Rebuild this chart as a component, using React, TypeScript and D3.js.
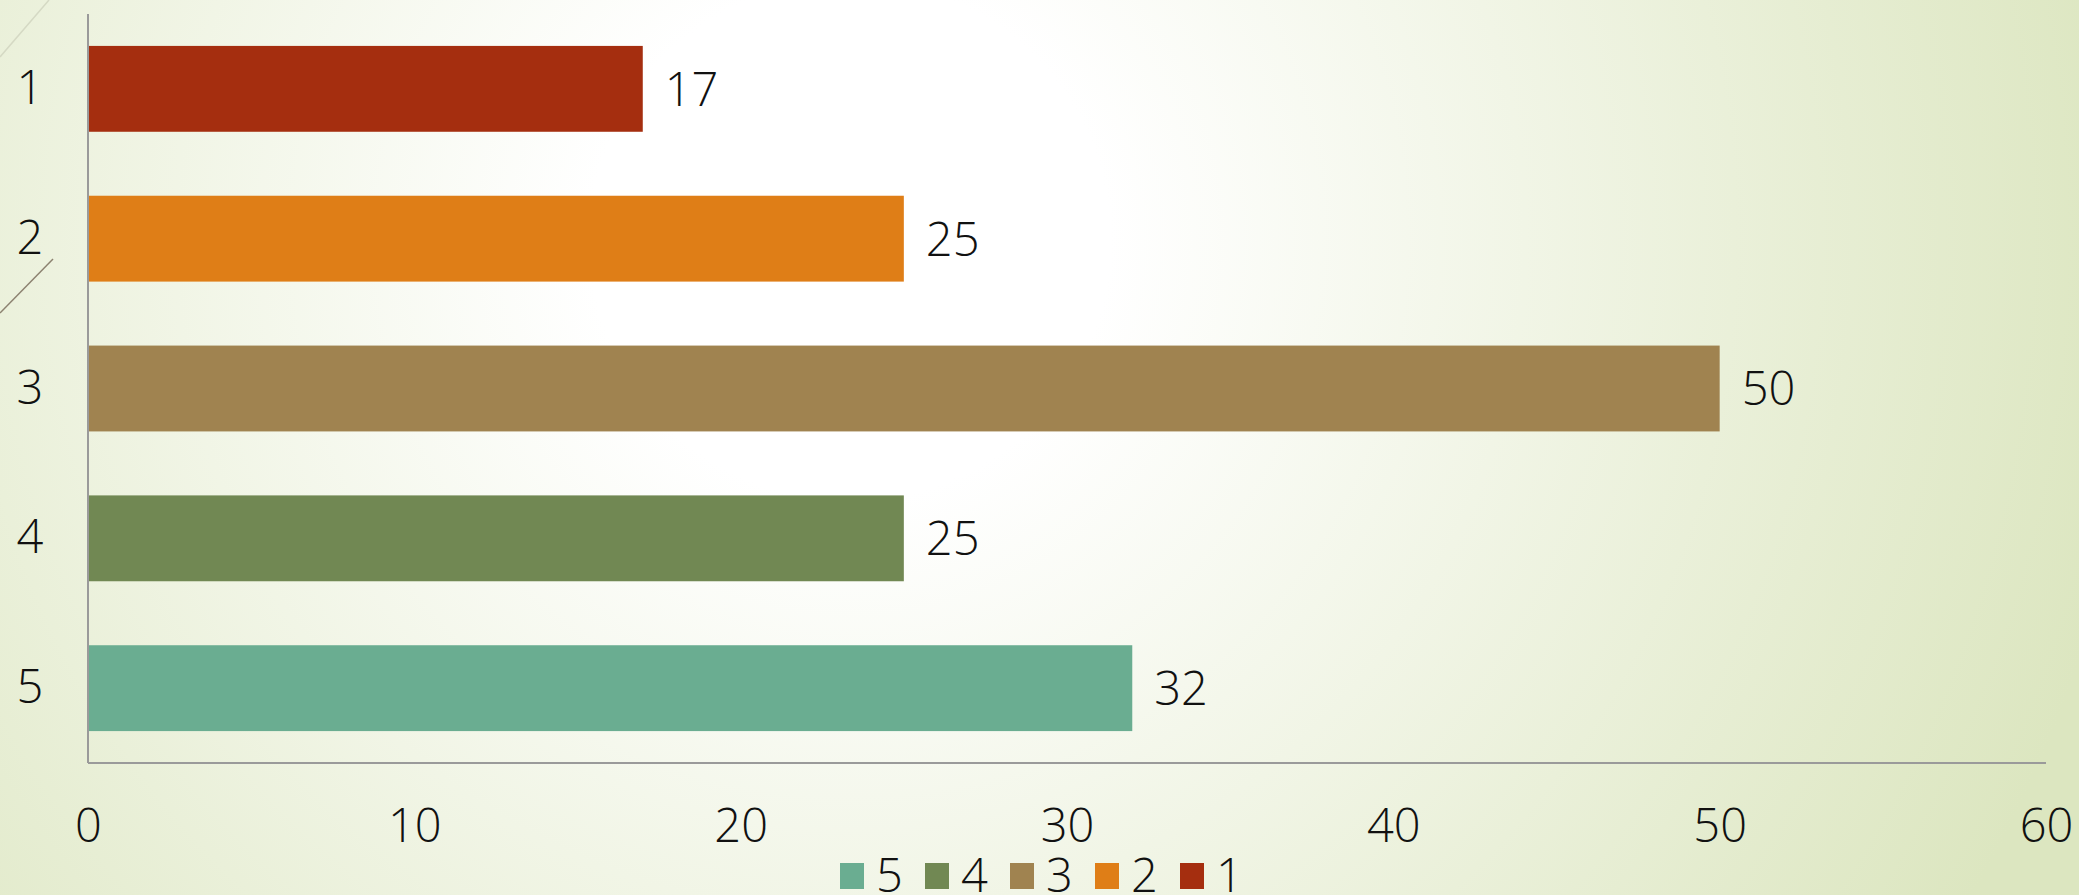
import React, { useEffect, useRef } from 'react';
import * as d3 from 'd3';

const categories = ['1', '2', '3', '4', '5'];
const values = [17, 25, 50, 25, 32];
const barColors = ['#a52e0f', '#df7e17', '#a08350', '#718853', '#6aad91'];
const xTicks = [0, 10, 20, 30, 40, 50, 60];
const legendOrder = ['5', '4', '3', '2', '1'];

const width = 2079;
const height = 895;
const fontFamily = '"Open Sans", Lato, sans-serif';
const fontWeight = 300;

const App: React.FC = () => {
    const ref = useRef<SVGSVGElement>(null);

    useEffect(() => {
        d3.select(ref.current).selectAll('*').remove();
        const svg = d3.select(ref.current).attr('width', width).attr('height', height);

        // background gradient like the slide template
        const defs = svg.append('defs');
        const grad = defs
            .append('radialGradient')
            .attr('id', 'bg')
            .attr('gradientUnits', 'userSpaceOnUse')
            .attr('cx', 850)
            .attr('cy', 240)
            .attr('r', 1300);
        grad.append('stop').attr('offset', 0).attr('stop-color', '#ffffff');
        grad.append('stop').attr('offset', 0.2).attr('stop-color', '#ffffff');
        grad.append('stop').attr('offset', 1).attr('stop-color', '#dce6c0');
        svg.append('rect').attr('width', width).attr('height', height).attr('fill', 'url(#bg)');

        // decorative diagonal strokes at the top left
        svg.append('line').attr('x1', 0).attr('y1', 57).attr('x2', 49).attr('y2', 0)
            .attr('stroke', '#d5d9c4').attr('stroke-width', 1.5);
        svg.append('line').attr('x1', 0).attr('y1', 313).attr('x2', 53).attr('y2', 259)
            .attr('stroke', '#8c8270').attr('stroke-width', 1.5);

        const x = d3.scaleLinear().domain([0, 60]).range([88, 2046]);
        const y = d3
            .scaleBand()
            .domain(categories)
            .range([14, 763])
            .paddingInner(0.427)
            .paddingOuter(0.213);

        // bars
        svg.append('g')
            .selectAll('rect')
            .data(values)
            .enter()
            .append('rect')
            .attr('x', x(0))
            .attr('y', (_, i) => y(categories[i]) ?? 0)
            .attr('width', (d) => x(d) - x(0))
            .attr('height', y.bandwidth())
            .attr('fill', (_, i) => barColors[i]);

        // value labels
        svg.append('g')
            .selectAll('text')
            .data(values)
            .enter()
            .append('text')
            .attr('x', (d) => x(d) + 22)
            .attr('y', (_, i) => (y(categories[i]) ?? 0) + y.bandwidth() / 2)
            .attr('dy', '0.36em')
            .style('font-family', fontFamily)
            .style('font-weight', fontWeight)
            .style('font-size', '47px')
            .attr('fill', '#111')
            .text((d) => d);

        // axes lines
        svg.append('line').attr('x1', x(0)).attr('x2', x(0)).attr('y1', 14).attr('y2', 763)
            .attr('stroke', '#9a9a9a').attr('stroke-width', 2);
        svg.append('line').attr('x1', x(0)).attr('x2', x(60)).attr('y1', 763).attr('y2', 763)
            .attr('stroke', '#9a9a9a').attr('stroke-width', 2);

        // x tick labels
        const xAxis = svg
            .append('g')
            .attr('transform', 'translate(0,763)')
            .call(d3.axisBottom(x).tickValues(xTicks).tickSize(0).tickPadding(46));
        xAxis.select('.domain').remove();
        xAxis.selectAll('text')
            .style('font-family', fontFamily)
            .style('font-weight', fontWeight)
            .style('font-size', '47px')
            .attr('fill', '#111');

        // y tick labels
        const yAxis = svg
            .append('g')
            .attr('transform', 'translate(30,0)')
            .call(d3.axisLeft(y).tickSize(0).tickPadding(0));
        yAxis.select('.domain').remove();
        yAxis.selectAll('text')
            .attr('text-anchor', 'middle')
            .style('font-family', fontFamily)
            .style('font-weight', fontWeight)
            .style('font-size', '47px')
            .attr('fill', '#111');

        // legend
        const legend = svg
            .append('g')
            .selectAll('g')
            .data(legendOrder)
            .enter()
            .append('g')
            .attr('transform', (_, i) => `translate(${840 + i * 85},863)`);
        legend.append('rect')
            .attr('width', 24)
            .attr('height', 26)
            .attr('fill', (d) => barColors[categories.indexOf(d)]);
        legend.append('text')
            .attr('x', 36)
            .attr('y', 29)
            .style('font-family', fontFamily)
            .style('font-weight', fontWeight)
            .style('font-size', '47px')
            .attr('fill', '#111')
            .text((d) => d);
    }, []);

    return (
        <svg
            ref={ref}
            style={{ position: 'absolute', left: 0, top: 0, display: 'block' }}
        ></svg>
    );
};

export default App;
